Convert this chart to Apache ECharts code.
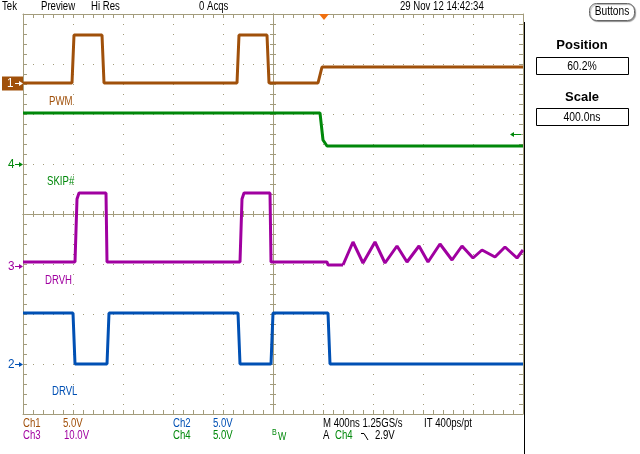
<!DOCTYPE html>
<html>
<head>
<meta charset="utf-8">
<script src="https://cdn.jsdelivr.net/npm/echarts@6/dist/echarts.min.js"></script>
<style>
html, body { margin: 0; padding: 0; background: #fff; }
#chart { width: 640px; height: 454px; }
</style>
</head>
<body>
<div id="chart"></div>
<script>
// time in ns from screen centre (400 ns/div), level in divisions from centre
const pwmT = [-2000, -1608, -1592, -1368, -1352, -288, -272, -48, -32, 360, 392, 2000];
const pwmV = [2.62, 2.62, 3.58, 3.58, 2.62, 2.62, 3.58, 3.58, 2.62, 2.62, 2.94, 2.94];

const skipT = [-2000, 376, 400, 432, 2000];
const skipV = [2.02, 2.02, 1.48, 1.36, 1.36];

const drvhT = [-2000, -1584, -1568, -1552, -1336, -1328, -264, -248, -232, -24, -16, 432, 440, 560];
const drvhV = [-0.96, -0.96, 0.3, 0.42, 0.42, -0.96, -0.96, 0.3, 0.42, 0.42, -0.96, -0.96, -1.02, -1.02];

// ringing after the trigger (peaks and troughs)
const ringT = [560, 640, 720, 816, 896, 992, 1072, 1168, 1240, 1336, 1432, 1512, 1600, 1672, 1776, 1856, 1952, 2000];
const ringV = [-1.02, -0.56, -0.98, -0.56, -0.98, -0.64, -0.96, -0.64, -0.96, -0.60, -0.92, -0.64, -0.88, -0.72, -0.86, -0.66, -0.88, -0.72];

const drvlT = [-2000, -1600, -1584, -1328, -1312, -280, -264, -16, 0, 440, 456, 2000];
const drvlV = [-1.98, -1.98, -3.0, -3.0, -1.98, -1.98, -3.0, -3.0, -1.98, -1.98, -3.0, -3.0];

// channel ground markers
const markNames = ['1', '4', '3', '2'];
const markLevels = [2.62, 1.0, -1.04, -3.0];

const cPwm = '#a0500a';
const cSkip = '#00880a';
const cDrvh = '#a000a0';
const cDrvl = '#0050b4';
const grat = '#a39c7c';
const font = '"Liberation Sans", Arial, sans-serif';
const markColors = [cPwm, cSkip, cDrvh, cDrvl];

const zip = (t, v) => t.map((x, i) => [x, v[i]]);

function tickAxis(range, step, pos, onZero, inside) {
  return {
    type: 'value', min: -range, max: range, interval: step, position: pos,
    axisLabel: { show: false },
    splitLine: { show: false },
    axisLine: { show: true, onZero: onZero, lineStyle: { color: grat, width: 1 } },
    axisTick: { show: true, inside: inside, length: onZero ? 3 : 4, lineStyle: { color: grat } }
  };
}

function majorAxis(range, step, pos) {
  return {
    type: 'value', min: -range, max: range, interval: step, position: pos,
    axisLabel: { show: false },
    axisTick: { show: false },
    axisLine: { show: false, onZero: false },
    splitLine: { show: true, lineStyle: { color: grat, width: 1, type: [1, 9] } }
  };
}

function trace(data, color) {
  return {
    type: 'line', data: data, xAxisIndex: 0, yAxisIndex: 0,
    showSymbol: false, symbol: 'none',
    lineStyle: { color: color, width: 3 }, itemStyle: { color: color },
    silent: true, z: 5
  };
}

const chart = echarts.init(document.getElementById('chart'));
chart.setOption({
  animation: false,
  backgroundColor: '#fff',
  grid: { left: 23, top: 14, width: 500, height: 400 },
  xAxis: [
    majorAxis(2000, 400, 'bottom'),
    tickAxis(2000, 80, 'bottom', false, true),
    tickAxis(2000, 80, 'top', false, true),
    tickAxis(2000, 80, 'bottom', true, true),
    tickAxis(2000, 80, 'bottom', true, false)
  ],
  yAxis: [
    majorAxis(4, 1, 'left'),
    tickAxis(4, 0.2, 'left', false, true),
    tickAxis(4, 0.2, 'right', false, true),
    tickAxis(4, 0.2, 'left', true, true),
    tickAxis(4, 0.2, 'left', true, false)
  ],
  series: [
    trace(zip(pwmT, pwmV), cPwm),
    trace(zip(skipT, skipV), cSkip),
    trace(zip(drvhT, drvhV), cDrvh),
    trace(zip(ringT, ringV), cDrvh),
    trace(zip(drvlT, drvlV), cDrvl)
  ]
});

// narrow scope-style text: regular sans squeezed horizontally
function txt(s, x, y, color, size, opts, sx) {
  return {
    type: 'text', z: 20, silent: true, x: x, y: y, scaleX: sx || 0.8,
    style: Object.assign({
      text: s, x: 0, y: 0, fill: color || '#000',
      font: (size || 12) + 'px ' + font, align: 'left', verticalAlign: 'middle'
    }, opts || {})
  };
}

const g = [];
// header
g.push(txt('Tek', 2, 7, '#000'));
g.push(txt('Preview', 41, 7, '#000'));
g.push(txt('Hi Res', 91, 7, '#000'));
g.push(txt('0 Acqs', 199, 7, '#000'));
g.push(txt('29 Nov 12 14:42:34', 400, 7, '#000'));
// trigger position marker
g.push({ type: 'polygon', z: 20, silent: true, shape: { points: [[319, 14], [329, 14], [324, 20]] }, style: { fill: '#f07010' } });
// trigger level marker (Ch4 2.9V)
g.push({ type: 'line', z: 20, silent: true, shape: { x1: 512, y1: 134.5, x2: 521, y2: 134.5 }, style: { stroke: cSkip, lineWidth: 1 } });
g.push({ type: 'polygon', z: 20, silent: true, shape: { points: [[510, 134.5], [514, 132], [514, 137]] }, style: { fill: cSkip } });

// channel labels
g.push(txt('PWM', 49, 102, cPwm));
g.push(txt('SKIP#', 47, 182, cSkip));
g.push(txt('DRVH', 45, 281, cDrvh));
g.push(txt('DRVL', 52, 392, cDrvl));

// ground markers
markNames.forEach((n, i) => {
  const y = Math.round(chart.convertToPixel({ yAxisIndex: 0 }, markLevels[i])) + 0.5;
  const col = markColors[i];
  const fg = i === 0 ? '#fff' : col;
  if (i === 0) {
    g.push({ type: 'rect', z: 19, silent: true, shape: { x: 2, y: y - 7, width: 21, height: 14 }, style: { fill: col } });
  }
  g.push(txt(n, i === 0 ? 7 : 8, y, fg, 13, null, 0.9));
  g.push({ type: 'line', z: 20, silent: true, shape: { x1: 15, y1: y, x2: 21, y2: y }, style: { stroke: fg, lineWidth: 1 } });
  g.push({ type: 'polygon', z: 20, silent: true, shape: { points: [[19, y - 2.5], [23, y], [19, y + 2.5]] }, style: { fill: fg } });
});

// footer
g.push(txt('Ch1', 23, 424, cPwm));
g.push(txt('5.0V', 63, 424, cPwm));
g.push(txt('Ch3', 23, 436, cDrvh));
g.push(txt('10.0V', 64, 436, cDrvh));
g.push(txt('Ch2', 173, 424, cDrvl));
g.push(txt('5.0V', 213, 424, cDrvl));
g.push(txt('Ch4', 173, 436, cSkip));
g.push(txt('5.0V', 213, 436, cSkip));
g.push(txt('B', 272, 433, cSkip, 9));
g.push(txt('W', 278, 437, cSkip, 11));
g.push(txt('M 400ns 1.25GS/s', 323, 424, '#000'));
g.push(txt('IT 400ps/pt', 424, 424, '#000'));
g.push(txt('A', 323, 436, '#000'));
g.push(txt('Ch4', 335, 436, cSkip));
g.push({ type: 'polyline', z: 20, silent: true, shape: { points: [[361, 433.5], [364, 433.5], [368, 440]] }, style: { stroke: '#000', lineWidth: 1, fill: null } });
g.push(txt('2.9V', 375, 436, '#000'));

// side panel
g.push({ type: 'line', z: 20, silent: true, shape: { x1: 524.5, y1: 22, x2: 524.5, y2: 454 }, style: { stroke: '#000', lineWidth: 1 } });
g.push({ type: 'rect', z: 20, silent: true, shape: { x: 589.5, y: 3.5, width: 45, height: 17, r: 7 }, style: { fill: '#fff', stroke: '#666', lineWidth: 1, shadowColor: 'rgba(0,0,0,0.35)', shadowOffsetX: 1, shadowOffsetY: 1, shadowBlur: 1 } });
g.push(txt('Buttons', 612, 12, '#000', 12, { align: 'center' }, 0.85));
g.push(txt('Position', 582, 45, '#000', 13, { align: 'center', font: 'bold 13px ' + font }, 1));
g.push({ type: 'rect', z: 20, silent: true, shape: { x: 536.5, y: 57.5, width: 92, height: 17 }, style: { fill: '#fff', stroke: '#000', lineWidth: 1 } });
g.push(txt('60.2%', 582, 66, '#000', 13, { align: 'center' }));
g.push(txt('Scale', 582, 97, '#000', 13, { align: 'center', font: 'bold 13px ' + font }, 1));
g.push({ type: 'rect', z: 20, silent: true, shape: { x: 536.5, y: 108.5, width: 92, height: 17 }, style: { fill: '#fff', stroke: '#000', lineWidth: 1 } });
g.push(txt('400.0ns', 582, 117, '#000', 13, { align: 'center' }));

chart.setOption({ graphic: g });
</script>
</body>
</html>
